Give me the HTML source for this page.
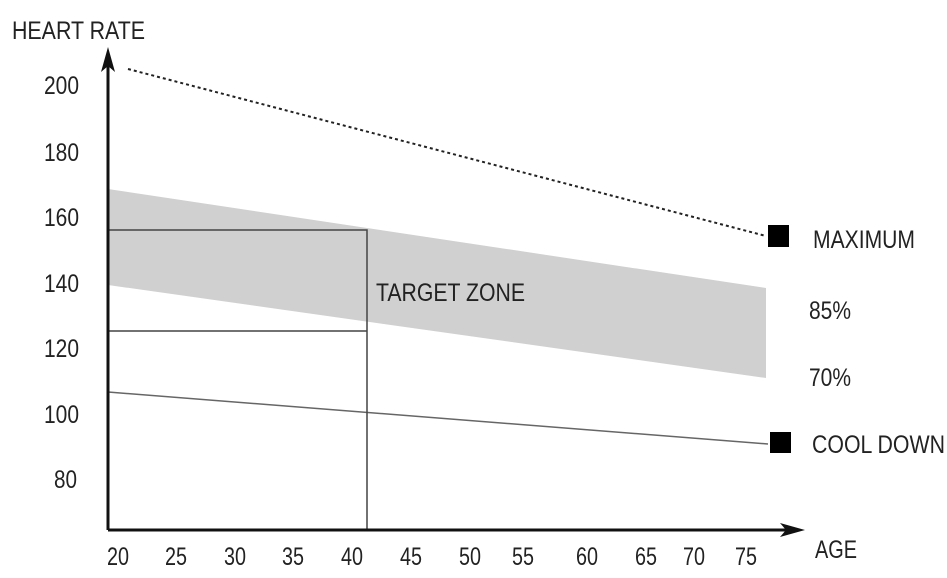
<!DOCTYPE html>
<html><head><meta charset="utf-8"><style>
html,body{margin:0;padding:0;background:#fff;}
svg{display:block;}
text{font-family:"Liberation Sans Narrow","Liberation Sans",sans-serif;fill:#222;font-size:25px;}
</style></head><body>
<svg width="947" height="578" viewBox="0 0 947 578" xmlns="http://www.w3.org/2000/svg">
<polygon points="108,189 766,288 766,378 108,285" fill="#d0d0d0"/>
<line x1="128" y1="69" x2="766" y2="236" stroke="#222" stroke-width="2" stroke-dasharray="3,3"/>
<line x1="108" y1="392" x2="768" y2="444" stroke="#666" stroke-width="1.5"/>
<polyline points="108,230 367,230 367,530" fill="none" stroke="#444" stroke-width="1.5"/>
<line x1="108" y1="331" x2="367" y2="331" stroke="#444" stroke-width="1.5"/>
<line x1="108" y1="530" x2="108" y2="62" stroke="#111" stroke-width="3"/>
<polygon points="108,47 101,72 108,66 115,72" fill="#111"/>
<line x1="108" y1="530" x2="790" y2="530" stroke="#111" stroke-width="3"/>
<polygon points="805,530 780,523 786,530 780,537" fill="#111"/>
<rect x="768" y="225" width="21" height="22" fill="#000"/>
<rect x="770" y="432" width="21" height="21" fill="#000"/>
<text x="12" y="39" textLength="133" lengthAdjust="spacingAndGlyphs">HEART RATE</text>
<g text-anchor="end">
<text x="79" y="94" textLength="35" lengthAdjust="spacingAndGlyphs">200</text>
<text x="79" y="161" textLength="35" lengthAdjust="spacingAndGlyphs">180</text>
<text x="79" y="226" textLength="35" lengthAdjust="spacingAndGlyphs">160</text>
<text x="79" y="292" textLength="35" lengthAdjust="spacingAndGlyphs">140</text>
<text x="79" y="357" textLength="35" lengthAdjust="spacingAndGlyphs">120</text>
<text x="79" y="423" textLength="35" lengthAdjust="spacingAndGlyphs">100</text>
<text x="77" y="488" textLength="23" lengthAdjust="spacingAndGlyphs">80</text>
</g>
<g>
<text x="107" y="565" textLength="22" lengthAdjust="spacingAndGlyphs">20</text>
<text x="165" y="565" textLength="22" lengthAdjust="spacingAndGlyphs">25</text>
<text x="224" y="565" textLength="22" lengthAdjust="spacingAndGlyphs">30</text>
<text x="282" y="565" textLength="22" lengthAdjust="spacingAndGlyphs">35</text>
<text x="341" y="565" textLength="22" lengthAdjust="spacingAndGlyphs">40</text>
<text x="400" y="565" textLength="22" lengthAdjust="spacingAndGlyphs">45</text>
<text x="459" y="565" textLength="22" lengthAdjust="spacingAndGlyphs">50</text>
<text x="512" y="565" textLength="22" lengthAdjust="spacingAndGlyphs">55</text>
<text x="576" y="565" textLength="22" lengthAdjust="spacingAndGlyphs">60</text>
<text x="635" y="565" textLength="22" lengthAdjust="spacingAndGlyphs">65</text>
<text x="683" y="565" textLength="22" lengthAdjust="spacingAndGlyphs">70</text>
<text x="735" y="565" textLength="22" lengthAdjust="spacingAndGlyphs">75</text>
</g>
<text x="815" y="558" textLength="42" lengthAdjust="spacingAndGlyphs">AGE</text>
<text x="376" y="301" textLength="149" lengthAdjust="spacingAndGlyphs">TARGET ZONE</text>
<text x="813" y="248" textLength="102" lengthAdjust="spacingAndGlyphs">MAXIMUM</text>
<text x="809" y="319" textLength="42" lengthAdjust="spacingAndGlyphs">85%</text>
<text x="809" y="386" textLength="42" lengthAdjust="spacingAndGlyphs">70%</text>
<text x="812" y="453" textLength="133" lengthAdjust="spacingAndGlyphs">COOL DOWN</text>
</svg>
</body></html>
